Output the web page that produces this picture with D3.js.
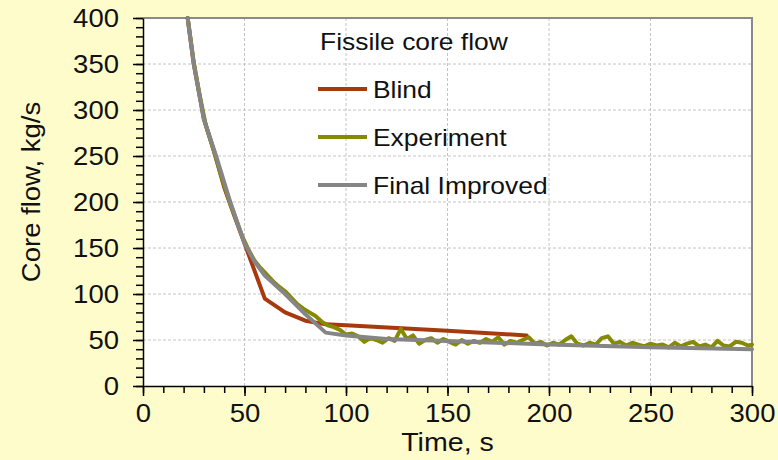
<!DOCTYPE html>
<meta charset="utf-8">
<style>
    body { margin: 0; background: #fffccc; }
    svg { display: block; font-family: "Liberation Sans", Arial, sans-serif; }
    .grid line { stroke: #c4c4c4; stroke-width: 1; stroke-dasharray: 3,2; }
    .axis path, .axis line { stroke: #000; stroke-width: 1.5; }
    .axis text { font-size: 25px; fill: #111; }
    .series { fill: none; stroke-width: 4; stroke-linejoin: round; stroke-linecap: round; }
</style>
<svg width="778" height="460"></svg>
<script src="https://d3js.org/d3.v7.min.js"></script>
<script>

    // series values [time s, core flow kg/s]
    var blind = [
        [22, 400], [25, 350], [30, 290], [35, 255], [40, 216], [45, 185], [50, 155],
        [60, 95], [70, 80], [80, 71], [90, 67], [100, 66], [150, 60], [189, 55]
    ];

    var experiment = [
        [22, 400], [25, 352], [28, 315], [31, 283], [34, 262], [37, 240], [40, 218],
        [43, 198], [46, 180], [49, 162], [52, 148], [55, 136], [58, 128], [61, 121],
        [64, 114], [67, 108], [70, 103], [73, 96], [76, 89], [79, 84], [82, 80],
        [85, 76], [88, 70], [91, 66], [94, 64], [97, 61], [100, 56], [103, 57],
        [106, 54], [109, 48], [112, 52], [115, 50], [118, 47], [121, 52], [124, 49],
        [127, 62], [130, 51], [133, 55], [136, 46], [139, 50], [142, 52], [145, 47],
        [148, 51], [151, 48], [154, 45], [157, 50], [160, 46], [163, 49], [166, 47],
        [169, 51], [172, 48], [175, 53], [178, 45], [181, 49], [184, 47], [187, 50],
        [190, 53], [193, 46], [196, 48], [199, 44], [202, 47], [205, 45], [208, 50],
        [211, 54], [214, 46], [217, 44], [220, 47], [223, 45], [226, 52], [229, 54],
        [232, 46], [235, 48], [238, 44], [241, 47], [244, 45], [247, 43], [250, 46],
        [253, 44], [256, 45], [259, 42], [262, 47], [265, 43], [268, 46], [271, 48],
        [274, 43], [277, 45], [280, 42], [283, 49], [286, 44], [289, 43], [292, 48],
        [295, 47], [298, 44], [300, 45]
    ];

    var improved = [
        [22, 400], [25, 350], [30, 290], [36, 250], [43, 200], [50, 155], [55, 135],
        [60, 120], [70, 100], [80, 78], [90, 58], [100, 55], [120, 51], [150, 49],
        [200, 45], [250, 42], [300, 40]
    ];

    var seriesNames = ["Blind", "Experiment", "Final Improved"];
    var seriesColors = ["#a8390f", "#858a00", "#858585"];
    var xTicks = [0, 50, 100, 150, 200, 250, 300];
    var yTicks = [0, 50, 100, 150, 200, 250, 300, 350, 400];

    var svg = d3.select("svg"),
        margin = {top: 18, right: 26, bottom: 74, left: 143},
        width = 778 - margin.left - margin.right,
        height = 460 - margin.top - margin.bottom,
        g = svg.append("g").attr("transform", "translate(" + margin.left + "," + margin.top + ")");

    var x = d3.scaleLinear().domain([0, 300]).range([0, width]),
        y = d3.scaleLinear().domain([0, 400]).range([height, 0]);

    // plot area
    g.append("rect").attr("width", width).attr("height", height).attr("fill", "#fff");

    // dashed grid
    g.append("g").attr("class", "grid")
        .selectAll("line").data(xTicks.slice(1, -1)).enter().append("line")
        .attr("x1", d => x(d)).attr("x2", d => x(d)).attr("y1", 0).attr("y2", height);
    g.append("g").attr("class", "grid")
        .selectAll("line").data(yTicks.slice(1, -1)).enter().append("line")
        .attr("y1", d => y(d)).attr("y2", d => y(d)).attr("x1", 0).attr("x2", width);

    // top and right frame
    g.append("path")
        .attr("d", "M0,0H" + width + "V" + height)
        .attr("fill", "none").attr("stroke", "#8a8a8a").attr("stroke-width", 2);

    var line = d3.line().x(d => x(d[0])).y(d => y(d[1]));

    var all = [blind, experiment, improved];
    g.append("g").selectAll("path").data(all).enter().append("path")
        .attr("class", "series")
        .attr("d", d => line(d))
        .style("stroke", (d, i) => seriesColors[i]);

    // minor ticks every 10
    g.append("g").attr("class", "axis")
        .attr("transform", "translate(0," + height + ")")
        .call(d3.axisBottom(x).ticks(30).tickSize(7).tickFormat("").tickSizeOuter(0));
    g.append("g").attr("class", "axis")
        .call(d3.axisLeft(y).ticks(40).tickSize(7).tickFormat("").tickSizeOuter(0));

    // major ticks with labels
    var xAxis = g.append("g").attr("class", "axis")
        .attr("transform", "translate(0," + height + ")")
        .call(d3.axisBottom(x).tickValues(xTicks).tickSize(10).tickPadding(8).tickSizeOuter(0));
    xAxis.select(".domain").remove();
    var yAxis = g.append("g").attr("class", "axis")
        .call(d3.axisLeft(y).tickValues(yTicks).tickSize(10).tickPadding(14).tickSizeOuter(0));
    yAxis.select(".domain").remove();

    // axis titles
    svg.append("text")
        .attr("x", margin.left + width / 2)
        .attr("y", 451)
        .attr("text-anchor", "middle")
        .attr("font-size", "26px")
        .attr("fill", "#111")
        .text("Time, s");

    svg.append("text")
        .attr("transform", "translate(40," + (margin.top + 174) + ") rotate(-90)")
        .attr("text-anchor", "middle")
        .attr("font-size", "25px")
        .attr("fill", "#111")
        .text("Core flow, kg/s");

    // legend
    var legend = svg.append("g").attr("transform", "translate(318,0)");
    legend.append("text")
        .attr("x", 2).attr("y", 50)
        .attr("font-size", "24px").attr("fill", "#111")
        .text("Fissile core flow");

    var item = legend.selectAll(".item").data(seriesNames).enter().append("g")
        .attr("class", "item")
        .attr("transform", (d, i) => "translate(0," + (89 + i * 48) + ")");
    item.append("line")
        .attr("x1", 0).attr("x2", 49)
        .attr("stroke-width", 4)
        .attr("stroke", (d, i) => seriesColors[i]);
    item.append("text")
        .attr("x", 55).attr("y", 9)
        .attr("font-size", "24px").attr("fill", "#111")
        .text(d => d);

    // the source text is drawn a little wider than the font, stretch it
    svg.selectAll("text").each(function() {
        var w = this.getComputedTextLength();
        if (w > 0) {
            d3.select(this)
                .attr("textLength", w * 1.1)
                .attr("lengthAdjust", "spacingAndGlyphs");
        }
    });

</script>
